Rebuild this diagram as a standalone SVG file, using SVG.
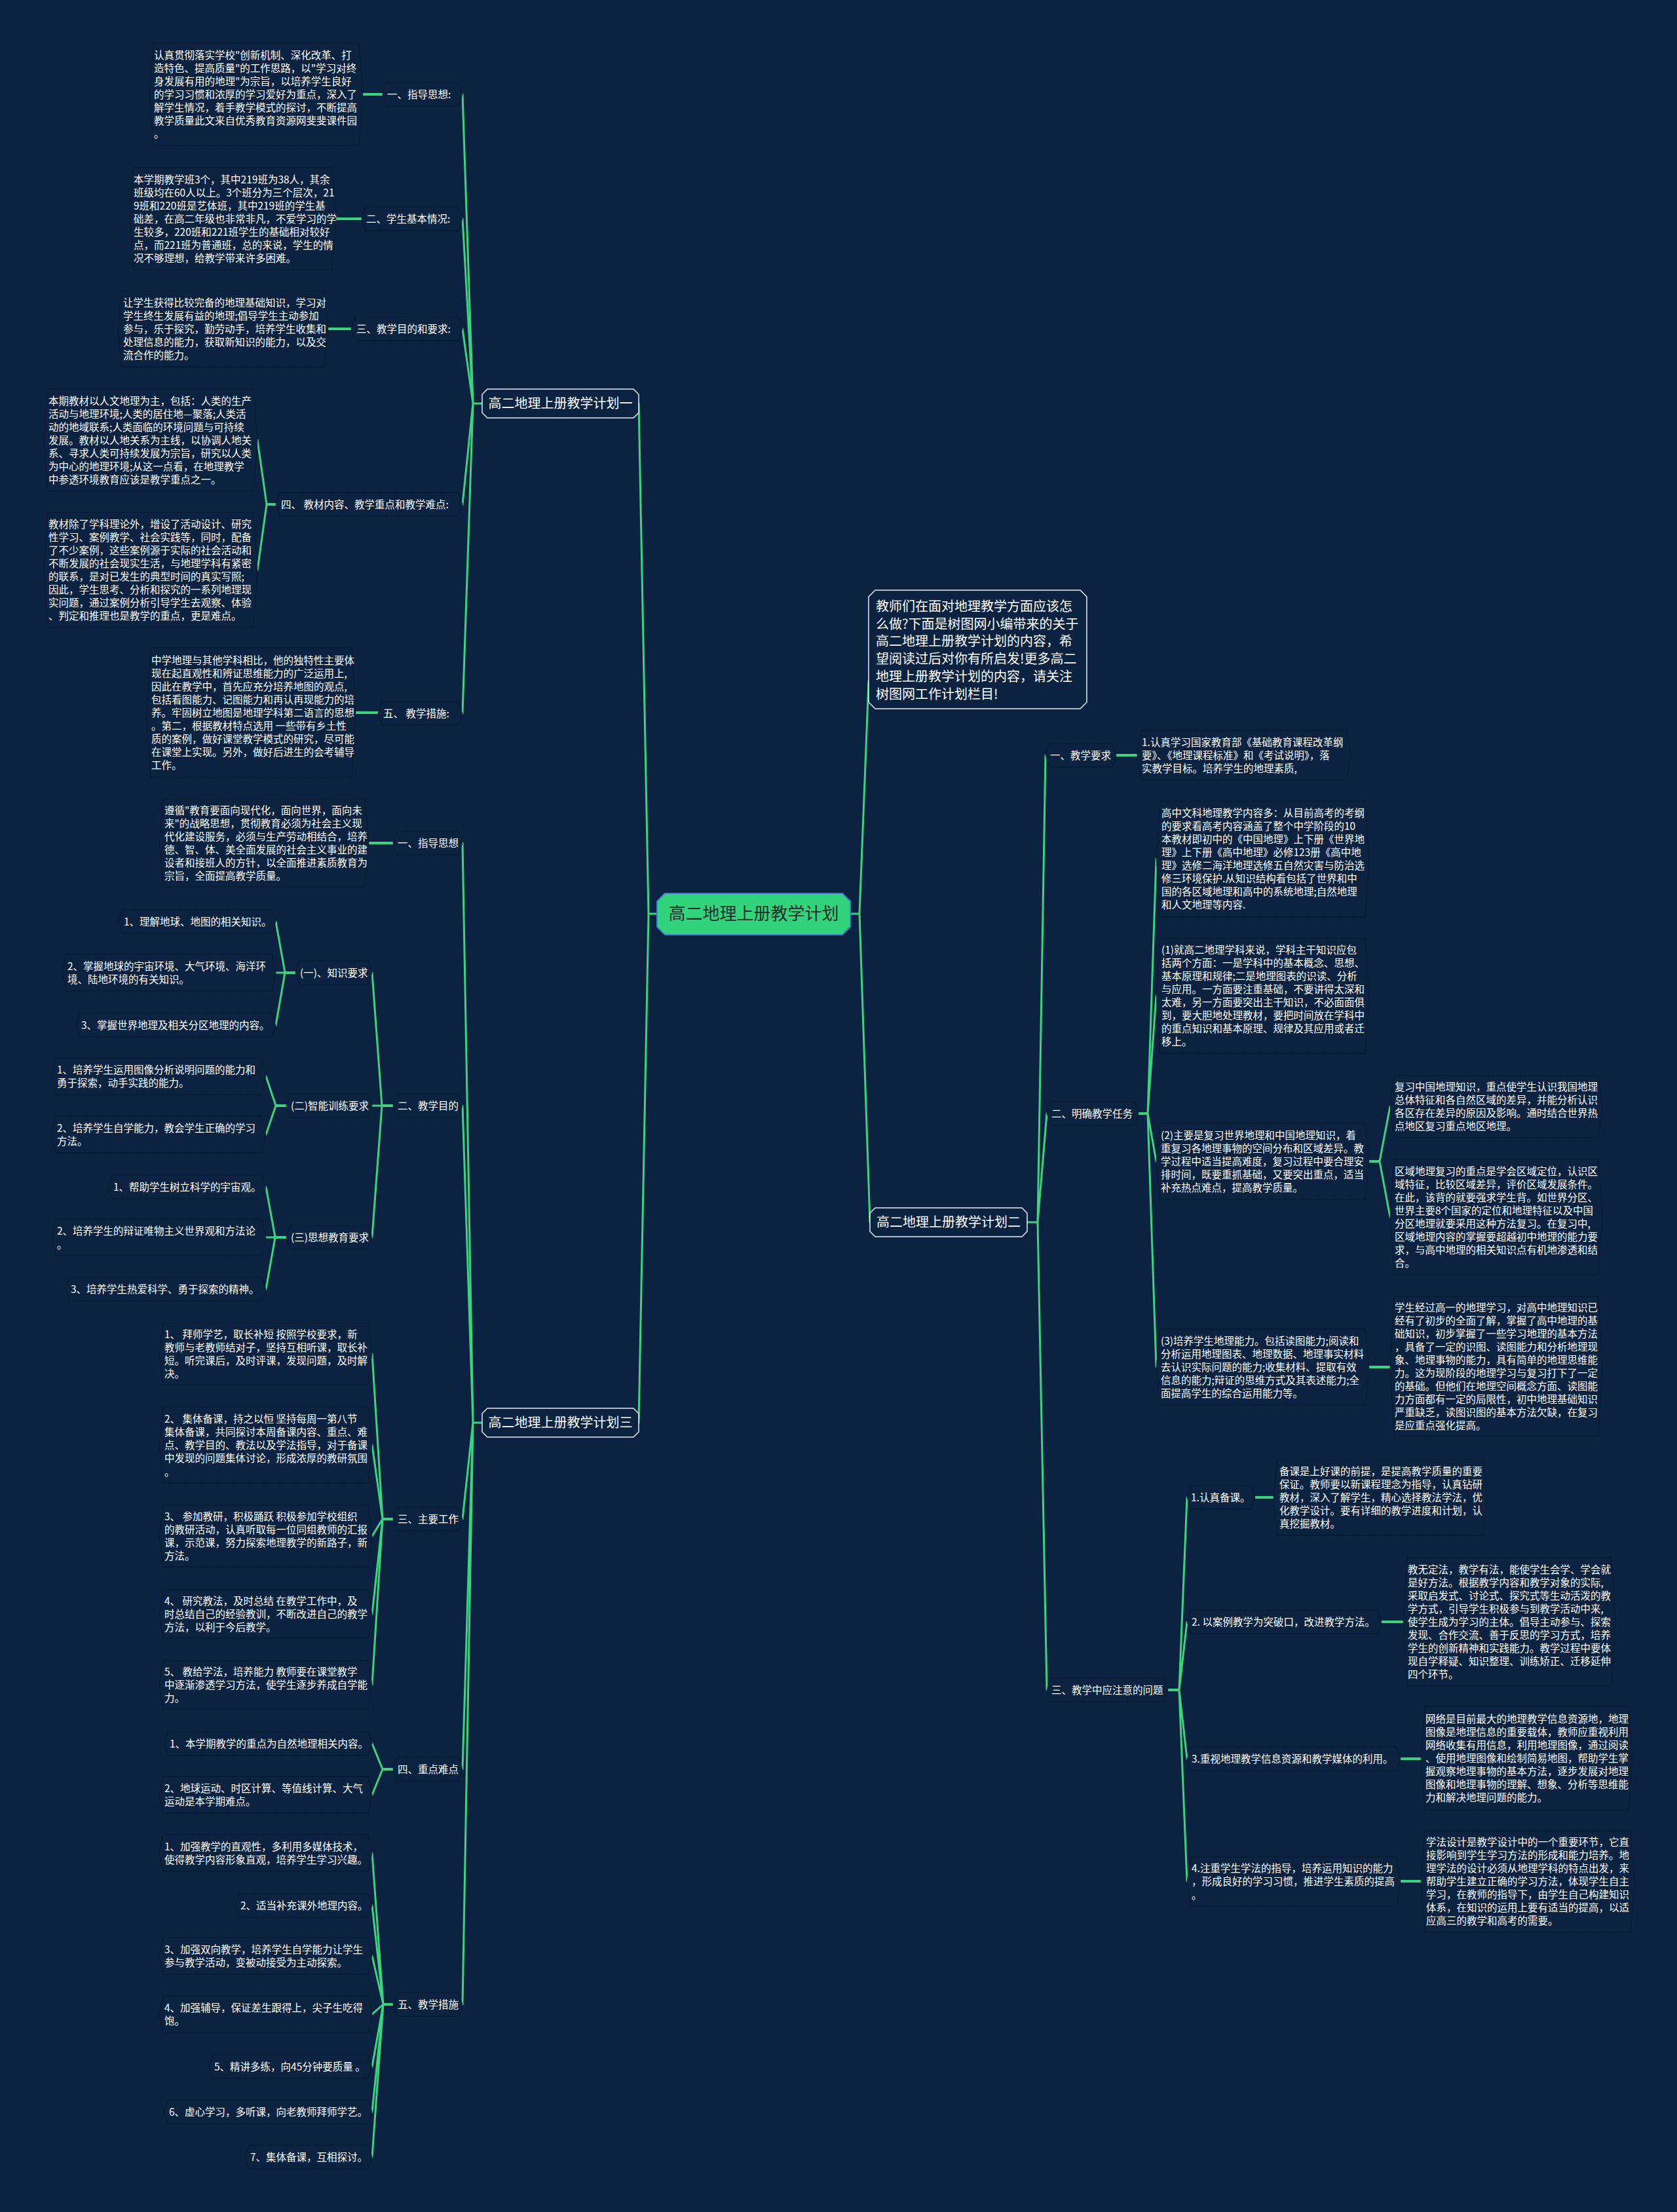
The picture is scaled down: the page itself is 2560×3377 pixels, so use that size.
<svg xmlns="http://www.w3.org/2000/svg" width="2560" height="3377" viewBox="0 0 2560 3377">
<style>
.c{stroke:#3bd47e;stroke-width:3;fill:none;stroke-linecap:round}
.s{stroke:#3bd47e;stroke-width:4;fill:none}
.n{fill:#0b2240;stroke:#03101f;stroke-width:1;stroke-dasharray:1.5 1.5}
.b{fill:#0b2240;stroke:#e8eef5;stroke-width:1.5}
.t{font-family:"Noto Sans CJK SC","Noto Sans",sans-serif;font-size:15.5px;fill:#ffffff}
.tb{font-family:"Noto Sans CJK SC","Noto Sans",sans-serif;font-size:20px;fill:#ffffff}
.tr{font-family:"Noto Sans CJK SC","Noto Sans",sans-serif;font-size:26px;fill:#1e2d2a}
</style>
<rect x="0" y="0" width="2560" height="3377" fill="#0b2240"/>
<g id="connectors">
<path class="c" d="M1003,1395 L990,1395 M990,1395 L975,616 M990,1395 L975,2172"/>
<path class="c" d="M1298,1395 L1312,1395 M1312,1395 L1326,1040 M1312,1395 L1328,1866"/>
<path class="c" d="M736,616 L722,616 M722,616 L706,144 M722,616 L706,334 M722,616 L706,502 M722,616 L706,770 M722,616 L706,1089"/>
<path class="s" d="M554,144 L584,144 M513,334 L552,334 M501,502 L536,502 M543,1088 L577,1088 M421,770 L407,770"/>
<path class="c" d="M407,770 L393,672 M407,770 L393,870"/>
<path class="c" d="M736,2172 L722,2172 M722,2172 L706,1287 M722,2172 L706,1688 M722,2172 L706,2319 M722,2172 L706,2701 M722,2172 L706,3060"/>
<path class="s" d="M563,1287 L600,1287 M600,1688 L583,1688 M451,1485 L435,1485 M437,1688 L421,1688 M437,1889 L420,1889 M600,2319 L584,2319 M600,2701 L584,2701 M600,3060 L585,3060"/>
<path class="c" d="M583,1688 L568,1485 M583,1688 L568,1688 M583,1688 L568,1889"/>
<path class="c" d="M435,1485 L421,1407 M435,1485 L421,1485 M435,1485 L421,1565"/>
<path class="c" d="M421,1688 L406,1643 M421,1688 L406,1732"/>
<path class="c" d="M420,1889 L406,1812 M420,1889 L406,1889 M420,1889 L406,1968"/>
<path class="c" d="M584,2319 L568,2067 M584,2319 L568,2206 M584,2319 L568,2345 M584,2319 L568,2464 M584,2319 L568,2572"/>
<path class="c" d="M584,2701 L568,2662 M584,2701 L568,2740"/>
<path class="c" d="M585,3060 L568,2829 M585,3060 L568,2909 M585,3060 L568,2986 M585,3060 L568,3075 M585,3060 L568,3155 M585,3060 L568,3224 M585,3060 L568,3293"/>
<path class="c" d="M1568,1866 L1584,1866 M1584,1866 L1596,1153 M1584,1866 L1598,1700 M1584,1866 L1598,2580"/>
<path class="s" d="M1704,1153 L1736,1153 M1738,1700 L1752,1700 M2090,1773 L2106,1773 M2090,2087 L2122,2087 M1783,2580 L1800,2580 M1916,2286 L1944,2286 M2109,2476 L2142,2476 M2138,2685 L2169,2685 M2138,2872 L2169,2872"/>
<path class="c" d="M1752,1700 L1765,1311 M1752,1700 L1765,1520 M1752,1700 L1765,1773 M1752,1700 L1765,2087"/>
<path class="c" d="M2106,1773 L2122,1689 M2106,1773 L2122,1858"/>
<path class="c" d="M1800,2580 L1812,2286 M1800,2580 L1812,2476 M1800,2580 L1812,2685 M1800,2580 L1812,2872"/>
</g>
<g id="root">
<polygon points="1015,1364 1286,1364 1298,1376 1298,1415 1286,1427 1015,1427 1003,1415 1003,1376" fill="#31d47b" stroke="#3b7fd6" stroke-width="2"/>
<text class="tr" x="1150.5" y="1404" text-anchor="middle">高二地理上册教学计划</text>
</g>
<g id="branch1">
<polygon class="b" points="744,594 967,594 975,602 975,630 967,638 744,638 736,630 736,602"/>
<text class="tb" x="855.5" y="623" text-anchor="middle">高二地理上册教学计划一</text>
</g>
<g id="a1">
<polygon class="n" points="228,144 234,66 548,66 554,144 548,222 234,222"/>
<text class="t" y="89.5"><tspan x="235">认真贯彻落实学校"创新机制、深化改革、打</tspan><tspan x="235" dy="20">造特色、提高质量"的工作思路，以"学习对终</tspan><tspan x="235" dy="20">身发展有用的地理"为宗旨，以培养学生良好</tspan><tspan x="235" dy="20">的学习习惯和浓厚的学习爱好为重点，深入了</tspan><tspan x="235" dy="20">解学生情况，着手教学模式的探讨，不断提高</tspan><tspan x="235" dy="20">教学质量此文来自优秀教育资源网斐斐课件园</tspan><tspan x="235" dy="20">。</tspan></text>
</g>
<g id="a1l"><polygon class="n" points="584,144 590,126 700,126 706,144 700,162 590,162"/><text class="t" x="591" y="149.5">一、指导思想:</text></g>
<g id="a2">
<polygon class="n" points="198,334 204,256 507,256 513,334 507,412 204,412"/>
<text class="t" y="279.5"><tspan x="204">本学期教学班3个，其中219班为38人，其余</tspan><tspan x="204" dy="20">班级均在60人以上。3个班分为三个层次，21</tspan><tspan x="204" dy="20">9班和220班是艺体班，其中219班的学生基</tspan><tspan x="204" dy="20">础差，在高二年级也非常非凡，不爱学习的学</tspan><tspan x="204" dy="20">生较多，220班和221班学生的基础相对较好</tspan><tspan x="204" dy="20">点，而221班为普通班，总的来说，学生的情</tspan><tspan x="204" dy="20">况不够理想，给教学带来许多困难。</tspan></text>
</g>
<g id="a2l"><polygon class="n" points="552,334 558,316 700,316 706,334 700,352 558,352"/><text class="t" x="559" y="339.5">二、学生基本情况:</text></g>
<g id="a3">
<polygon class="n" points="180,502 186,444 495,444 501,502 495,560 186,560"/>
<text class="t" y="467.5"><tspan x="188">让学生获得比较完备的地理基础知识，学习对</tspan><tspan x="188" dy="20">学生终生发展有益的地理;倡导学生主动参加</tspan><tspan x="188" dy="20">参与，乐于探究，勤劳动手，培养学生收集和</tspan><tspan x="188" dy="20">处理信息的能力，获取新知识的能力，以及交</tspan><tspan x="188" dy="20">流合作的能力。</tspan></text>
</g>
<g id="a3l"><polygon class="n" points="536,502 542,484 700,484 706,502 700,520 542,520"/><text class="t" x="544" y="507.5">三、教学目的和要求:</text></g>
<g id="a4a">
<polygon class="n" points="67,672 73,594 387,594 393,672 387,750 73,750"/>
<text class="t" y="617.5"><tspan x="74">本期教材以人文地理为主，包括：人类的生产</tspan><tspan x="74" dy="20">活动与地理环境;人类的居住地—聚落;人类活</tspan><tspan x="74" dy="20">动的地域联系;人类面临的环境问题与可持续</tspan><tspan x="74" dy="20">发展。教材以人地关系为主线，以协调人地关</tspan><tspan x="74" dy="20">系、寻求人类可持续发展为宗旨，研究以人类</tspan><tspan x="74" dy="20">为中心的地理环境;从这一点看，在地理教学</tspan><tspan x="74" dy="20">中参透环境教育应该是教学重点之一。</tspan></text>
</g>
<g id="a4b">
<polygon class="n" points="67,870 73,782 387,782 393,870 387,958 73,958"/>
<text class="t" y="805.5"><tspan x="74">教材除了学科理论外，增设了活动设计、研究</tspan><tspan x="74" dy="20">性学习、案例教学、社会实践等，同时，配备</tspan><tspan x="74" dy="20">了不少案例，这些案例源于实际的社会活动和</tspan><tspan x="74" dy="20">不断发展的社会现实生活，与地理学科有紧密</tspan><tspan x="74" dy="20">的联系，是对已发生的典型时间的真实写照;</tspan><tspan x="74" dy="20">因此，学生思考、分析和探究的一系列地理现</tspan><tspan x="74" dy="20">实问题，通过案例分析引导学生去观察、体验</tspan><tspan x="74" dy="20">、判定和推理也是教学的重点，更是难点。</tspan></text>
</g>
<g id="a4l"><polygon class="n" points="421,770 427,752 700,752 706,770 700,788 427,788"/><text class="t" x="429" y="775.5">四、 教材内容、教学重点和教学难点:</text></g>
<g id="a5">
<polygon class="n" points="224,1088 230,989 537,989 543,1088 537,1187 230,1187"/>
<text class="t" y="1013.5"><tspan x="231">中学地理与其他学科相比，他的独特性主要体</tspan><tspan x="231" dy="20">现在起直观性和辨证思维能力的广泛运用上,</tspan><tspan x="231" dy="20">因此在教学中，首先应充分培养地图的观点,</tspan><tspan x="231" dy="20">包括看图能力、记图能力和再认再现能力的培</tspan><tspan x="231" dy="20">养。牢固树立地图是地理学科第二语言的思想</tspan><tspan x="231" dy="20">。第二，根据教材特点选用 一些带有乡土性</tspan><tspan x="231" dy="20">质的案例，做好课堂教学模式的研究，尽可能</tspan><tspan x="231" dy="20">在课堂上实现。另外，做好后进生的会考辅导</tspan><tspan x="231" dy="20">工作。</tspan></text>
</g>
<g id="a5l"><polygon class="n" points="577,1089 583,1071 700,1071 706,1089 700,1107 583,1107"/><text class="t" x="585" y="1094.5">五、 教学措施:</text></g>
<g id="branch3">
<polygon class="b" points="744,2150 967,2150 975,2158 975,2186 967,2194 744,2194 736,2186 736,2158"/>
<text class="tb" x="855.5" y="2179" text-anchor="middle">高二地理上册教学计划三</text>
</g>
<g id="c1">
<polygon class="n" points="243,1287 249,1220 557,1220 563,1287 557,1354 249,1354"/>
<text class="t" y="1242.5"><tspan x="251">遵循"教育要面向现代化，面向世界，面向未</tspan><tspan x="251" dy="20">来"的战略思想，贯彻教育必须为社会主义现</tspan><tspan x="251" dy="20">代化建设服务，必须与生产劳动相结合，培养</tspan><tspan x="251" dy="20">德、智、体、美全面发展的社会主义事业的建</tspan><tspan x="251" dy="20">设者和接班人的方针，以全面推进素质教育为</tspan><tspan x="251" dy="20">宗旨，全面提高教学质量。</tspan></text>
</g>
<g id="c1l"><polygon class="n" points="600,1287 606,1269 700,1269 706,1287 700,1305 606,1305"/><text class="t" x="607" y="1292.5">一、指导思想</text></g>
<g id="c2l"><polygon class="n" points="600,1688 606,1670 700,1670 706,1688 700,1706 606,1706"/><text class="t" x="607" y="1693.5">二、教学目的</text></g>
<g id="c21"><polygon class="n" points="451,1485 457,1467 562,1467 568,1485 562,1503 457,1503"/><text class="t" x="458" y="1490.5">(一)、知识要求</text></g>
<g id="n1"><polygon class="n" points="181,1407 187,1389 415,1389 421,1407 415,1425 187,1425"/><text class="t" x="189" y="1412.5">1、理解地球、地图的相关知识。</text></g>
<g id="n2"><polygon class="n" points="95,1485 101,1457 415,1457 421,1485 415,1513 101,1513"/><text class="t" y="1480.5"><tspan x="103">2、掌握地球的宇宙环境、大气环境、海洋环</tspan><tspan x="103" dy="20">境、陆地环境的有关知识。</tspan></text></g>
<g id="n3"><polygon class="n" points="116,1565 122,1547 415,1547 421,1565 415,1583 122,1583"/><text class="t" x="124" y="1570.5">3、掌握世界地理及相关分区地理的内容。</text></g>
<g id="c22"><polygon class="n" points="437,1688 443,1670 562,1670 568,1688 562,1706 443,1706"/><text class="t" x="444" y="1693.5">(二)智能训练要求</text></g>
<g id="m1"><polygon class="n" points="79,1643 85,1615 400,1615 406,1643 400,1671 85,1671"/><text class="t" y="1638.5"><tspan x="87">1、培养学生运用图像分析说明问题的能力和</tspan><tspan x="87" dy="20">勇于探索，动手实践的能力。</tspan></text></g>
<g id="m2"><polygon class="n" points="79,1732 85,1704 400,1704 406,1732 400,1760 85,1760"/><text class="t" y="1727.5"><tspan x="87">2、培养学生自学能力，教会学生正确的学习</tspan><tspan x="87" dy="20">方法。</tspan></text></g>
<g id="c23"><polygon class="n" points="437,1889 443,1871 562,1871 568,1889 562,1907 443,1907"/><text class="t" x="444" y="1894.5">(三)思想教育要求</text></g>
<g id="o1"><polygon class="n" points="165,1812 171,1794 400,1794 406,1812 400,1830 171,1830"/><text class="t" x="173" y="1817.5">1、帮助学生树立科学的宇宙观。</text></g>
<g id="o2"><polygon class="n" points="79,1889 85,1861 400,1861 406,1889 400,1917 85,1917"/><text class="t" y="1884.5"><tspan x="87">2、培养学生的辩证唯物主义世界观和方法论</tspan><tspan x="87" dy="21">。</tspan></text></g>
<g id="o3"><polygon class="n" points="100,1968 106,1950 400,1950 406,1968 400,1986 106,1986"/><text class="t" x="108" y="1973.5">3、培养学生热爱科学、勇于探索的精神。</text></g>
<g id="c3l"><polygon class="n" points="600,2319 606,2301 700,2301 706,2319 700,2337 606,2337"/><text class="t" x="607" y="2324.5">三、主要工作</text></g>
<g id="w1"><polygon class="n" points="243,2067 249,2020 562,2020 568,2067 562,2114 249,2114"/><text class="t" y="2042.5"><tspan x="251">1、 拜师学艺，取长补短 按照学校要求，新</tspan><tspan x="251" dy="20">教师与老教师结对子，坚持互相听课，取长补</tspan><tspan x="251" dy="20">短。听完课后，及时评课，发现问题，及时解</tspan><tspan x="251" dy="20">决。</tspan></text></g>
<g id="w2"><polygon class="n" points="243,2206 249,2148 562,2148 568,2206 562,2264 249,2264"/><text class="t" y="2171.5"><tspan x="251">2、 集体备课，持之以恒 坚持每周一第八节</tspan><tspan x="251" dy="20">集体备课，共同探讨本周备课内容、重点、难</tspan><tspan x="251" dy="20">点、教学目的、教法以及学法指导，对于备课</tspan><tspan x="251" dy="20">中发现的问题集体讨论，形成浓厚的教研氛围</tspan><tspan x="251" dy="21">。</tspan></text></g>
<g id="w3"><polygon class="n" points="243,2345 249,2298 562,2298 568,2345 562,2392 249,2392"/><text class="t" y="2320.5"><tspan x="251">3、 参加教研，积极踊跃 积极参加学校组织</tspan><tspan x="251" dy="20">的教研活动，认真听取每一位同组教师的汇报</tspan><tspan x="251" dy="20">课，示范课，努力探索地理教学的新路子，新</tspan><tspan x="251" dy="20">方法。</tspan></text></g>
<g id="w4"><polygon class="n" points="243,2464 249,2427 562,2427 568,2464 562,2501 249,2501"/><text class="t" y="2449.5"><tspan x="251">4、 研究教法，及时总结 在教学工作中，及</tspan><tspan x="251" dy="20">时总结自己的经验教训，不断改进自己的教学</tspan><tspan x="251" dy="20">方法，以利于今后教学。</tspan></text></g>
<g id="w5"><polygon class="n" points="243,2572 249,2535 562,2535 568,2572 562,2609 249,2609"/><text class="t" y="2557.5"><tspan x="251">5、 教给学法，培养能力 教师要在课堂教学</tspan><tspan x="251" dy="20">中逐渐渗透学习方法，使学生逐步养成自学能</tspan><tspan x="251" dy="20">力。</tspan></text></g>
<g id="c4l"><polygon class="n" points="600,2701 606,2683 700,2683 706,2701 700,2719 606,2719"/><text class="t" x="607" y="2706.5">四、重点难点</text></g>
<g id="z1"><polygon class="n" points="251,2662 257,2644 562,2644 568,2662 562,2680 257,2680"/><text class="t" x="259" y="2667.5">1、本学期教学的重点为自然地理相关内容。</text></g>
<g id="z2"><polygon class="n" points="243,2740 249,2712 562,2712 568,2740 562,2768 249,2768"/><text class="t" y="2735.5"><tspan x="251">2、地球运动、时区计算、等值线计算、大气</tspan><tspan x="251" dy="20">运动是本学期难点。</tspan></text></g>
<g id="c5l"><polygon class="n" points="600,3060 606,3042 700,3042 706,3060 700,3078 606,3078"/><text class="t" x="607" y="3065.5">五、教学措施</text></g>
<g id="v1"><polygon class="n" points="243,2829 249,2801 562,2801 568,2829 562,2857 249,2857"/><text class="t" y="2824.5"><tspan x="251">1、加强教学的直观性，多利用多媒体技术，</tspan><tspan x="251" dy="20">使得教学内容形象直观，培养学生学习兴趣。</tspan></text></g>
<g id="v2"><polygon class="n" points="359,2909 365,2891 562,2891 568,2909 562,2927 365,2927"/><text class="t" x="367" y="2914.5">2、适当补充课外地理内容。</text></g>
<g id="v3"><polygon class="n" points="243,2986 249,2958 562,2958 568,2986 562,3014 249,3014"/><text class="t" y="2981.5"><tspan x="251">3、加强双向教学，培养学生自学能力让学生</tspan><tspan x="251" dy="20">参与教学活动，变被动接受为主动探索。</tspan></text></g>
<g id="v4"><polygon class="n" points="243,3075 249,3047 562,3047 568,3075 562,3103 249,3103"/><text class="t" y="3070.5"><tspan x="251">4、加强辅导，保证差生跟得上，尖子生吃得</tspan><tspan x="251" dy="20">饱。</tspan></text></g>
<g id="v5"><polygon class="n" points="319,3155 325,3137 562,3137 568,3155 562,3173 325,3173"/><text class="t" x="327" y="3160.5">5、精讲多练，向45分钟要质量 。</text></g>
<g id="v6"><polygon class="n" points="250,3224 256,3206 562,3206 568,3224 562,3242 256,3242"/><text class="t" x="258" y="3229.5">6、虚心学习，多听课，向老教师拜师学艺。</text></g>
<g id="v7"><polygon class="n" points="374,3293 380,3275 562,3275 568,3293 562,3311 380,3311"/><text class="t" x="382" y="3298.5">7、集体备课，互相探讨。</text></g>
<g id="intro">
<polygon class="b" points="1336,901 1649,901 1659,911 1659,1072 1649,1082 1336,1082 1326,1072 1326,911"/>
<text class="tb" y="933"><tspan x="1337">教师们在面对地理教学方面应该怎</tspan><tspan x="1337" dy="26.7">么做?下面是树图网小编带来的关于</tspan><tspan x="1337" dy="26.7">高二地理上册教学计划的内容，希</tspan><tspan x="1337" dy="26.7">望阅读过后对你有所启发!更多高二</tspan><tspan x="1337" dy="26.7">地理上册教学计划的内容，请关注</tspan><tspan x="1337" dy="26.7">树图网工作计划栏目!</tspan></text>
</g>
<g id="branch2">
<polygon class="b" points="1336,1844 1560,1844 1568,1852 1568,1880 1560,1888 1336,1888 1328,1880 1328,1852"/>
<text class="tb" x="1448" y="1873" text-anchor="middle">高二地理上册教学计划二</text>
</g>
<g id="r1l"><polygon class="n" points="1596,1153 1602,1135 1698,1135 1704,1153 1698,1171 1602,1171"/><text class="t" x="1603" y="1158.5">一、教学要求</text></g>
<g id="r1t"><polygon class="n" points="1736,1153 1742,1115 2056,1115 2062,1153 2056,1191 1742,1191"/><text class="t" y="1138.5"><tspan x="1743">1.认真学习国家教育部《基础教育课程改革纲</tspan><tspan x="1743" dy="20">要》、《地理课程标准》和《考试说明》，落</tspan><tspan x="1743" dy="20">实教学目标。培养学生的地理素质,</tspan></text></g>
<g id="r2l"><polygon class="n" points="1598,1700 1604,1682 1732,1682 1738,1700 1732,1718 1604,1718"/><text class="t" x="1605" y="1705.5">二、明确教学任务</text></g>
<g id="b1"><polygon class="n" points="1765,1311.5 1771,1223 2084,1223 2090,1311.5 2084,1400 1771,1400"/><text class="t" y="1247"><tspan x="1773">高中文科地理教学内容多：从目前高考的考纲</tspan><tspan x="1773" dy="20">的要求看高考内容涵盖了整个中学阶段的10</tspan><tspan x="1773" dy="20">本教材即初中的《中国地理》上下册《世界地</tspan><tspan x="1773" dy="20">理》上下册《高中地理》必修123册《高中地</tspan><tspan x="1773" dy="20">理》选修二海洋地理选修五自然灾害与防治选</tspan><tspan x="1773" dy="20">修三环境保护.从知识结构看包括了世界和中</tspan><tspan x="1773" dy="20">国的各区域地理和高中的系统地理;自然地理</tspan><tspan x="1773" dy="20">和人文地理等内容.</tspan></text></g>
<g id="b2"><polygon class="n" points="1765,1520.5 1771,1433 2084,1433 2090,1520.5 2084,1608 1771,1608"/><text class="t" y="1456"><tspan x="1773">(1)就高二地理学科来说，学科主干知识应包</tspan><tspan x="1773" dy="20">括两个方面：一是学科中的基本概念、思想、</tspan><tspan x="1773" dy="20">基本原理和规律;二是地理图表的识读、分析</tspan><tspan x="1773" dy="20">与应用。一方面要注重基础，不要讲得太深和</tspan><tspan x="1773" dy="20">太难，另一方面要突出主干知识，不必面面俱</tspan><tspan x="1773" dy="20">到，要大胆地处理教材，要把时间放在学科中</tspan><tspan x="1773" dy="20">的重点知识和基本原理、规律及其应用或者迁</tspan><tspan x="1773" dy="20">移上。</tspan></text></g>
<g id="b3"><polygon class="n" points="1765,1773 1771,1715 2084,1715 2090,1773 2084,1831 1771,1831"/><text class="t" y="1738.5"><tspan x="1772">(2)主要是复习世界地理和中国地理知识，着</tspan><tspan x="1772" dy="20">重复习各地理事物的空间分布和区域差异。教</tspan><tspan x="1772" dy="20">学过程中适当提高难度，复习过程中要合理安</tspan><tspan x="1772" dy="20">排时间，既要重抓基础，又要突出重点，适当</tspan><tspan x="1772" dy="20">补充热点难点，提高教学质量。</tspan></text></g>
<g id="k1"><polygon class="n" points="2122,1689.5 2128,1642 2440,1642 2446,1689.5 2440,1737 2128,1737"/><text class="t" y="1665"><tspan x="2129">复习中国地理知识，重点使学生认识我国地理</tspan><tspan x="2129" dy="20">总体特征和各自然区域的差异，并能分析认识</tspan><tspan x="2129" dy="20">各区存在差异的原因及影响。通时结合世界热</tspan><tspan x="2129" dy="20">点地区复习重点地区地理。</tspan></text></g>
<g id="k2"><polygon class="n" points="2122,1858 2128,1770 2440,1770 2446,1858 2440,1946 2128,1946"/><text class="t" y="1793.5"><tspan x="2129">区域地理复习的重点是学会区域定位，认识区</tspan><tspan x="2129" dy="20">域特征，比较区域差异，评价区域发展条件。</tspan><tspan x="2129" dy="20">在此，该背的就要强求学生背。如世界分区、</tspan><tspan x="2129" dy="20">世界主要8个国家的定位和地理特征以及中国</tspan><tspan x="2129" dy="20">分区地理就要采用这种方法复习。在复习中,</tspan><tspan x="2129" dy="20">区域地理内容的掌握要超越初中地理的能力要</tspan><tspan x="2129" dy="20">求，与高中地理的相关知识点有机地渗透和结</tspan><tspan x="2129" dy="20">合。</tspan></text></g>
<g id="b4"><polygon class="n" points="1765,2087 1771,2029 2084,2029 2090,2087 2084,2145 1771,2145"/><text class="t" y="2052.5"><tspan x="1772">(3)培养学生地理能力。包括读图能力;阅读和</tspan><tspan x="1772" dy="20">分析运用地理图表、地理数据、地理事实材料</tspan><tspan x="1772" dy="20">去认识实际问题的能力;收集材料、提取有效</tspan><tspan x="1772" dy="20">信息的能力;辩证的思维方式及其表述能力;全</tspan><tspan x="1772" dy="20">面提高学生的综合运用能力等。</tspan></text></g>
<g id="k3"><polygon class="n" points="2122,2086 2128,1979 2440,1979 2446,2086 2440,2193 2128,2193"/><text class="t" y="2001.5"><tspan x="2129">学生经过高一的地理学习，对高中地理知识已</tspan><tspan x="2129" dy="20">经有了初步的全面了解，掌握了高中地理的基</tspan><tspan x="2129" dy="20">础知识，初步掌握了一些学习地理的基本方法</tspan><tspan x="2129" dy="20">，具备了一定的识图、读图能力和分析地理现</tspan><tspan x="2129" dy="20">象、地理事物的能力，具有简单的地理思维能</tspan><tspan x="2129" dy="20">力。这为现阶段的地理学习与复习打下了一定</tspan><tspan x="2129" dy="20">的基础。但他们在地理空间概念方面、读图能</tspan><tspan x="2129" dy="20">力方面都有一定的局限性，初中地理基础知识</tspan><tspan x="2129" dy="20">严重缺乏，读图识图的基本方法欠缺，在复习</tspan><tspan x="2129" dy="20">是应重点强化提高。</tspan></text></g>
<g id="r3l"><polygon class="n" points="1598,2580 1604,2562 1777,2562 1783,2580 1777,2598 1604,2598"/><text class="t" x="1605" y="2585.5">三、教学中应注意的问题</text></g>
<g id="q1"><polygon class="n" points="1812,2286 1818,2268 1910,2268 1916,2286 1910,2304 1818,2304"/><text class="t" x="1818" y="2291.5">1.认真备课。</text></g>
<g id="q1t"><polygon class="n" points="1944,2286 1950,2228 2264,2228 2270,2286 2264,2344 1950,2344"/><text class="t" y="2251.5"><tspan x="1953">备课是上好课的前提，是提高教学质量的重要</tspan><tspan x="1953" dy="20">保证。教师要以新课程理念为指导，认真钻研</tspan><tspan x="1953" dy="20">教材，深入了解学生，精心选择教法学法，优</tspan><tspan x="1953" dy="20">化教学设计。要有详细的教学进度和计划，认</tspan><tspan x="1953" dy="20">真挖掘教材。</tspan></text></g>
<g id="q2"><polygon class="n" points="1812,2476 1818,2458 2103,2458 2109,2476 2103,2494 1818,2494"/><text class="t" x="1819" y="2481.5">2. 以案例教学为突破口，改进教学方法。</text></g>
<g id="q2t"><polygon class="n" points="2142,2476 2148,2378 2460,2378 2466,2476 2460,2574 2148,2574"/><text class="t" y="2401.5"><tspan x="2149">教无定法，教学有法，能使学生会学、学会就</tspan><tspan x="2149" dy="20">是好方法。根据教学内容和教学对象的实际,</tspan><tspan x="2149" dy="20">采取启发式、讨论式、探究式等生动活泼的教</tspan><tspan x="2149" dy="20">学方式，引导学生积极参与到教学活动中来,</tspan><tspan x="2149" dy="20">使学生成为学习的主体。倡导主动参与、探索</tspan><tspan x="2149" dy="20">发现、合作交流、善于反思的学习方式，培养</tspan><tspan x="2149" dy="20">学生的创新精神和实践能力。教学过程中要体</tspan><tspan x="2149" dy="20">现自学释疑、知识整理、训练矫正、迁移延伸</tspan><tspan x="2149" dy="20">四个环节。</tspan></text></g>
<g id="q3"><polygon class="n" points="1812,2685 1818,2667 2132,2667 2138,2685 2132,2703 1818,2703"/><text class="t" x="1819" y="2690.5">3.重视地理教学信息资源和教学媒体的利用。</text></g>
<g id="q3t"><polygon class="n" points="2169,2684 2175,2605 2486,2605 2492,2684 2486,2763 2175,2763"/><text class="t" y="2629.5"><tspan x="2176">网络是目前最大的地理教学信息资源地，地理</tspan><tspan x="2176" dy="20">图像是地理信息的重要载体，教师应重视利用</tspan><tspan x="2176" dy="20">网络收集有用信息，利用地理图像，通过阅读</tspan><tspan x="2176" dy="20">、使用地理图像和绘制简易地图，帮助学生掌</tspan><tspan x="2176" dy="20">握观察地理事物的基本方法，逐步发展对地理</tspan><tspan x="2176" dy="20">图像和地理事物的理解、想象、分析等思维能</tspan><tspan x="2176" dy="20">力和解决地理问题的能力。</tspan></text></g>
<g id="q4"><polygon class="n" points="1812,2872.5 1818,2835 2132,2835 2138,2872.5 2132,2910 1818,2910"/><text class="t" y="2858"><tspan x="1819">4.注重学生学法的指导，培养运用知识的能力</tspan><tspan x="1819" dy="20">，形成良好的学习习惯，推进学生素质的提高</tspan><tspan x="1819" dy="21">。</tspan></text></g>
<g id="q4t"><polygon class="n" points="2169,2872.5 2175,2795 2489,2795 2495,2872.5 2489,2950 2175,2950"/><text class="t" y="2818"><tspan x="2177">学法设计是教学设计中的一个重要环节，它直</tspan><tspan x="2177" dy="20">接影响到学生学习方法的形成和能力培养。地</tspan><tspan x="2177" dy="20">理学法的设计必须从地理学科的特点出发，来</tspan><tspan x="2177" dy="20">帮助学生建立正确的学习方法，体现学生自主</tspan><tspan x="2177" dy="20">学习，在教师的指导下，由学生自己构建知识</tspan><tspan x="2177" dy="20">体系，在知识的运用上要有适当的提高，以适</tspan><tspan x="2177" dy="20">应高三的教学和高考的需要。</tspan></text></g>
</svg>
